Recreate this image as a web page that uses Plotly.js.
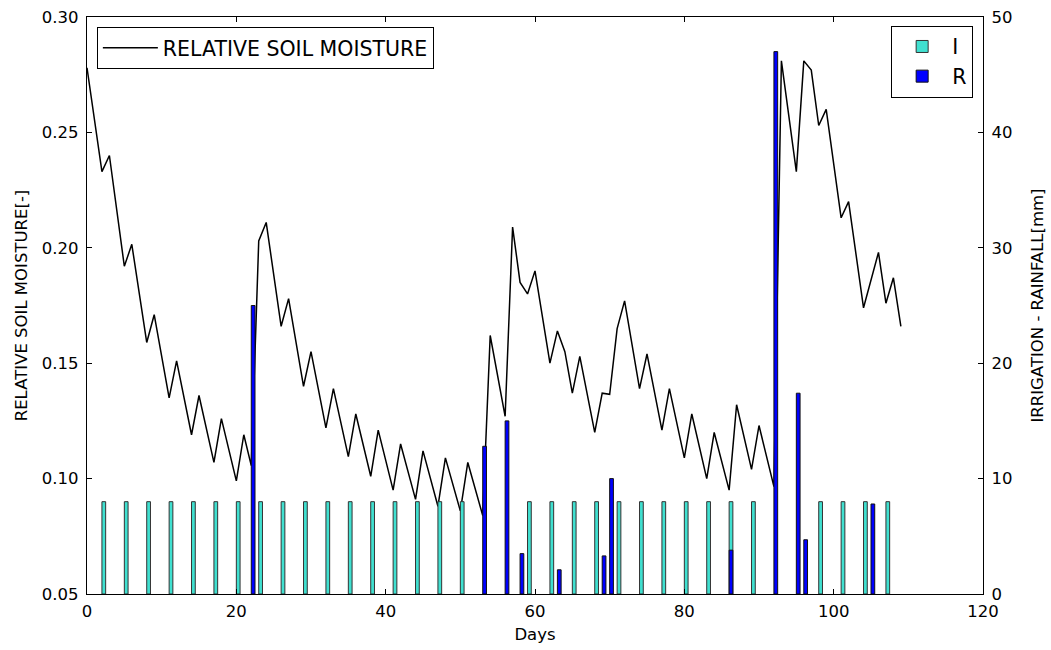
<!DOCTYPE html>
<html>
<head>
<meta charset="utf-8">
<script src="https://cdn.plot.ly/plotly-3.0.1.min.js"></script>
<style>html,body{margin:0;padding:0;background:#fff;}#chart{width:1051px;height:650px;}</style>
</head>
<body>
<div id="chart"></div>
<script>
// Relative soil moisture (vertices of the line)
const moistureDays = [0,2,3,5,6,8,9,11,12,14,15,17,18,20,21,22,23,24,26,27,29,30,32,33,35,36,38,39,41,42,44,45,47,48,50,51,53,54,56,57,58,59,60,62,63,64,65,66,68,69,70,71,72,74,75,77,78,80,81,83,84,86,87,89,90,92,93,95,96,97,98,99,101,102,104,106,107,108,109];
const moisture = [0.278,0.233,0.240,0.192,0.2015,0.159,0.171,0.135,0.151,0.119,0.136,0.107,0.126,0.099,0.119,0.1056,0.203,0.211,0.166,0.178,0.140,0.155,0.122,0.139,0.1095,0.128,0.101,0.121,0.095,0.115,0.091,0.112,0.088,0.109,0.086,0.107,0.084,0.162,0.127,0.209,0.185,0.180,0.190,0.150,0.164,0.155,0.137,0.153,0.120,0.137,0.1365,0.165,0.177,0.139,0.154,0.121,0.139,0.109,0.128,0.100,0.120,0.095,0.132,0.104,0.123,0.0965,0.281,0.233,0.281,0.277,0.253,0.260,0.213,0.220,0.174,0.198,0.176,0.187,0.166];

// Irrigation (I) in mm
const irrigationDays = [2,5,8,11,14,17,20,23,26,29,32,35,38,41,44,47,50,59,62,65,68,71,74,77,80,83,86,89,98,101,104,107];
const irrigation = [8,8,8,8,8,8,8,8,8,8,8,8,8,8,8,8,8,8,8,8,8,8,8,8,8,8,8,8,8,8,8,8];

// Rainfall (R) in mm
const rainDays = [22,53,56,58,63,69,70,86,92,95,96,105];
const rain = [25,12.8,15,3.5,2.1,3.3,10,3.8,47,17.4,4.7,7.8];

const font = {family: 'DejaVu Sans, sans-serif', size: 16.5, color: '#000'};
const legendFont = {family: 'DejaVu Sans, sans-serif', size: 20.5, color: '#000'};

const traces = [
  {
    x: moistureDays, y: moisture, type: 'scatter', mode: 'lines',
    name: 'RELATIVE SOIL MOISTURE', line: {color: '#000', width: 1.5},
    xaxis: 'x', yaxis: 'y', legend: 'legend'
  },
  {
    x: irrigationDays, y: irrigation, type: 'bar', name: 'I',
    width: 0.5, offset: 0,
    marker: {color: '#40E0D0', line: {color: '#333', width: 1}},
    xaxis: 'x', yaxis: 'y2', legend: 'legend2'
  },
  {
    x: rainDays, y: rain, type: 'bar', name: 'R',
    width: 0.5, offset: 0,
    marker: {color: '#0000FF', line: {color: '#111', width: 1}},
    xaxis: 'x', yaxis: 'y2', legend: 'legend2'
  }
];

const layout = {
  width: 1051, height: 650,
  margin: {l: 87, r: 68, t: 17, b: 56},
  paper_bgcolor: '#fff', plot_bgcolor: '#fff',
  font: font,
  barmode: 'overlay',
  showlegend: true,
  xaxis: {
    range: [0, 120], dtick: 20, tick0: 0,
    showgrid: false, zeroline: false,
    showline: true, linecolor: '#000', linewidth: 1.3, mirror: 'ticks',
    ticks: 'inside', ticklen: 5, tickcolor: '#000',
    tickfont: font, ticklabelstandoff: 2,
    title: {text: 'Days', font: font, standoff: 8}
  },
  yaxis: {
    range: [0.05, 0.30], dtick: 0.05, tick0: 0.05, tickformat: '.2f',
    showgrid: false, zeroline: false,
    showline: true, linecolor: '#000', linewidth: 1.3,
    ticks: 'inside', ticklen: 5, tickcolor: '#000',
    tickfont: font, ticklabelstandoff: 4,
    title: {text: 'RELATIVE SOIL MOISTURE[-]', font: font, standoff: 10}
  },
  yaxis2: {
    range: [0, 50], dtick: 10, tick0: 0,
    overlaying: 'y', side: 'right',
    showgrid: false, zeroline: false,
    showline: true, linecolor: '#000', linewidth: 1.3,
    ticks: 'inside', ticklen: 5, tickcolor: '#000',
    tickfont: font, ticklabelstandoff: 4,
    title: {text: 'IRRIGATION - RAINFALL[mm]', font: font, standoff: 20}
  },
  legend: {
    x: 0.011, y: 0.983, xanchor: 'left', yanchor: 'top',
    xref: 'paper', yref: 'paper', itemwidth: 55,
    bgcolor: '#fff', bordercolor: '#000', borderwidth: 1,
    font: legendFont
  },
  legend2: {
    x: 0.989, y: 0.985, xanchor: 'right', yanchor: 'top',
    xref: 'paper', yref: 'paper', itemwidth: 50,
    bgcolor: '#fff', bordercolor: '#000', borderwidth: 1,
    font: legendFont
  }
};

Plotly.newPlot('chart', traces, layout, {displayModeBar: false, staticPlot: true});
</script>
</body>
</html>
